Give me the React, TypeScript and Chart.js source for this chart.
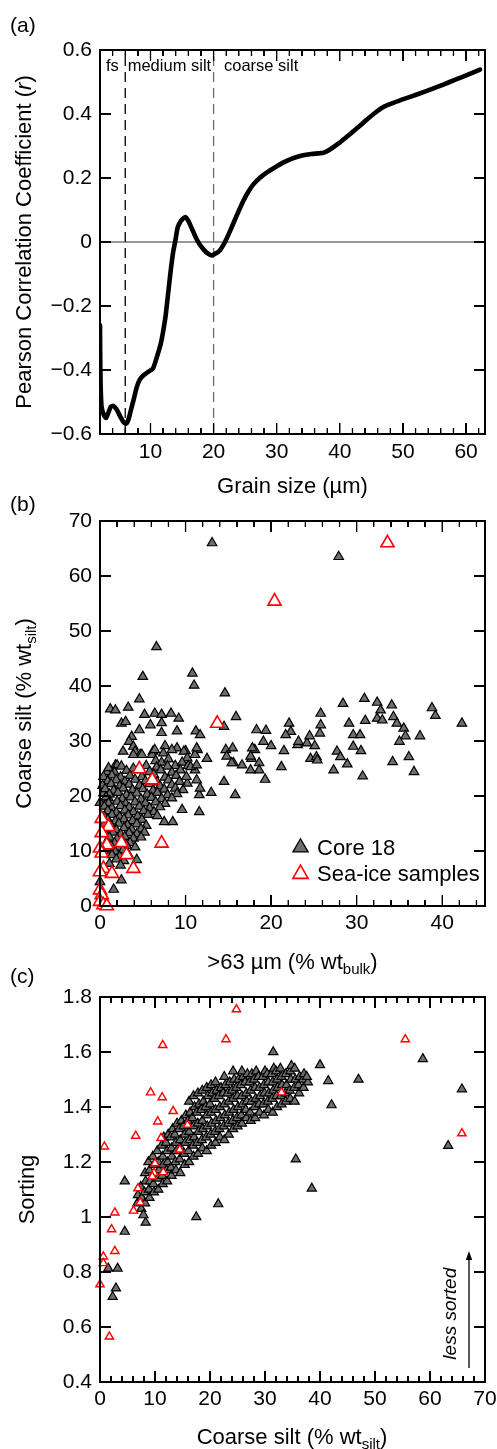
import React, { useEffect, useRef } from 'react';
import { Chart, registerables } from 'chart.js';

Chart.register(...registerables);

const FONT = "'Liberation Sans', Arial, Helvetica, sans-serif";

// ---------------- Panel (a) ----------------
const grainSize = [2.0, 2.03, 2.1, 2.25, 2.6, 2.95, 3.3, 3.7, 4.1, 4.6, 5.2, 5.7, 6.1, 6.5, 6.9, 7.3, 7.8, 8.3, 9.0, 9.7, 10.4, 11.0, 11.6, 12.0, 12.4, 12.8, 13.2, 13.6, 13.9, 14.3, 14.7, 15.1, 15.5, 16.0, 16.6, 17.2, 17.8, 18.4, 19.0, 19.7, 20.4, 21.0, 21.8, 22.6, 23.6, 24.7, 25.5, 26.3, 27.3, 28.4, 29.7, 31.0, 32.3, 33.7, 35.5, 37.4, 38.5, 39.8, 41.6, 43.0, 44.3, 45.6, 46.9, 48.5, 50.3, 52.2, 54.3, 56.4, 58.4, 60.3, 62.2];
const pearsonR = [-0.26, -0.35, -0.45, -0.515, -0.54, -0.55, -0.535, -0.515, -0.512, -0.522, -0.545, -0.562, -0.568, -0.555, -0.525, -0.495, -0.455, -0.43, -0.415, -0.405, -0.395, -0.36, -0.32, -0.28, -0.23, -0.16, -0.09, -0.03, 0.0, 0.045, 0.062, 0.072, 0.078, 0.066, 0.04, 0.013, -0.008, -0.023, -0.035, -0.042, -0.035, -0.026, 0.0, 0.034, 0.08, 0.128, 0.157, 0.18, 0.2, 0.217, 0.233, 0.248, 0.26, 0.269, 0.275, 0.279, 0.29, 0.308, 0.337, 0.36, 0.383, 0.404, 0.422, 0.435, 0.448, 0.461, 0.476, 0.492, 0.508, 0.523, 0.539];
const aXTicks = [10, 20, 30, 40, 50, 60];
const aYTicks = [-0.6, -0.4, -0.2, 0, 0.2, 0.4, 0.6];
const sizeBoundaries = [6, 20];
const sizeClassLabels = ['fs', 'medium silt', 'coarse silt'];

// ---------------- Panel (b) ----------------
const bXTicks = [0, 10, 20, 30, 40];
const bYTicks = [0, 10, 20, 30, 40, 50, 60, 70];
const core18B = [
  [13.1, 66.0], [27.9, 63.5], [6.6, 47.1], [5.0, 41.7], [10.8, 42.3], [11.0, 40.1], [14.6, 38.7], [4.6, 37.6],
  [1.2, 35.8], [1.8, 35.6], [3.3, 36.1], [5.2, 34.8], [6.4, 35.0], [7.2, 34.8], [8.3, 35.0], [9.2, 34.1], [15.9, 34.4], [14.5, 32.6],
  [2.5, 33.2], [3.0, 33.5], [5.9, 32.9], [7.2, 33.3], [4.6, 32.0], [7.2, 31.5], [9.0, 31.8], [11.2, 31.8], [11.7, 31.1],
  [3.7, 30.8], [3.4, 29.9], [3.9, 29.0], [4.1, 28.1], [2.7, 28.1], [4.7, 27.5], [7.6, 29.1], [6.2, 28.1], [9.0, 28.7], [10.0, 28.2], [11.4, 28.4],
  [12.5, 26.8], [14.7, 28.4], [15.5, 28.7], [15.6, 26.0], [16.6, 25.6],
  [18.3, 32.0], [19.4, 31.9], [19.1, 29.9], [20.0, 29.1], [18.1, 28.4], [17.7, 26.8], [18.6, 26.0], [17.6, 24.7], [18.6, 24.7], [19.3, 23.0],
  [21.2, 25.3], [21.5, 28.2], [22.1, 33.2], [22.3, 31.7], [21.7, 31.1], [23.1, 29.3], [23.2, 29.9], [24.2, 29.6], [24.5, 30.9], [25.1, 29.1],
  [25.7, 31.4], [25.8, 32.9], [25.8, 35.0], [24.6, 26.8], [25.3, 27.1], [25.4, 26.5], [27.3, 24.7], [27.7, 28.1], [28.1, 27.1], [28.9, 25.8],
  [28.4, 36.8], [29.1, 33.2], [29.6, 31.1], [30.4, 31.1], [29.6, 29.0], [30.5, 28.2], [30.7, 23.6], [30.9, 37.7], [31.0, 33.7], [32.4, 37.0],
  [32.8, 35.6], [32.4, 34.1], [33.0, 33.8], [34.1, 36.5], [34.3, 34.4], [34.7, 33.2], [35.5, 32.3], [35.7, 30.9], [35.0, 29.9], [36.1, 27.1],
  [34.2, 26.2], [36.7, 24.4], [37.4, 30.9], [38.8, 36.0], [39.2, 34.6], [42.3, 33.2],
  [6.1, 27.5], [6.4, 28.4], [7.4, 27.8], [8.4, 28.4], [9.8, 28.1], [10.2, 26.9], [11.1, 27.5], [11.3, 28.7], [14.8, 27.2], [15.4, 26.0],
  [17.8, 28.7], [17.6, 27.2], [4.9, 27.5], [3.9, 27.5], [1.8, 25.6], [0.8, 24.4], [6.5, 26.4], [7.2, 26.1], [8.0, 26.7], [8.8, 25.5],
  [9.6, 26.1], [10.3, 25.5], [11.1, 24.7],
  [11.6, 20.2], [11.7, 21.4], [11.3, 22.9], [9.7, 21.1], [10.2, 22.3], [9.4, 24.7], [10.6, 25.3], [11.3, 25.6], [13.0, 20.6], [15.8, 20.2],
  [14.5, 22.6], [9.6, 17.5], [11.6, 17.1], [8.5, 15.3], [7.5, 15.3], [0.0, 18.8], [0.4, 20.5], [1.0, 19.6], [2.0, 25.6],
  [1.0, 25.1], [2.5, 25.4], [3.9, 25.0], [5.4, 25.5], [6.6, 25.2], [7.9, 25.4],
  [1.7, 24.3], [3.1, 24.6], [5.8, 24.4], [7.1, 24.7], [8.4, 24.3],
  [0.4, 23.5], [1.4, 23.8], [2.4, 23.4], [3.5, 23.7], [4.9, 23.5], [6.3, 23.9], [7.6, 23.4], [8.9, 23.7], [10.1, 23.5],
  [0.9, 22.7], [1.9, 22.9], [2.9, 22.6], [4.1, 23.0], [5.3, 22.7], [6.7, 22.5], [8.0, 22.9], [9.3, 22.6],
  [0.3, 21.9], [1.3, 22.2], [2.3, 21.8], [3.4, 22.1], [4.6, 21.9], [5.8, 22.2], [7.0, 21.8], [8.4, 22.0],
  [0.6, 21.3], [1.6, 21.0], [2.7, 21.4], [3.8, 21.1], [5.0, 21.3], [6.2, 21.0], [7.5, 21.2], [8.8, 21.4],
  [1.1, 20.3], [2.1, 20.6], [3.1, 20.2], [4.3, 20.5], [5.5, 20.3], [6.7, 20.6], [7.9, 20.2], [9.0, 20.4],
  [0.7, 19.8], [2.6, 19.5], [3.6, 19.8], [4.8, 19.4], [6.0, 19.7], [7.2, 19.5], [8.4, 19.6],
  [1.0, 18.7], [2.0, 19.0], [3.0, 18.6], [4.1, 18.9], [5.3, 18.7], [6.5, 18.9], [7.6, 18.6],
  [0.5, 18.1], [1.4, 17.8], [2.4, 18.2], [3.4, 17.9], [4.6, 18.1], [5.8, 17.8], [7.0, 18.0],
  [0.9, 17.3], [1.9, 17.0], [2.9, 17.4], [3.9, 17.1], [5.1, 17.3], [6.3, 17.1],
  [0.5, 16.3], [1.4, 16.6], [2.3, 16.2], [3.3, 16.5], [4.4, 16.3], [5.6, 16.6], [6.7, 16.4],
  [0.9, 15.7], [1.8, 15.4], [2.8, 15.8], [3.8, 15.5], [4.9, 15.7],
  [0.5, 14.9], [1.3, 14.6], [2.2, 15.0], [3.2, 14.7], [4.3, 14.9], [5.4, 14.6],
  [1.0, 14.1], [1.9, 13.8], [2.8, 14.2], [3.7, 13.9], [4.8, 14.0],
  [0.6, 13.1], [1.5, 13.4], [2.4, 13.0], [3.4, 13.3], [4.3, 13.1], [5.2, 13.4],
  [1.1, 12.5], [2.0, 12.2], [2.9, 12.6], [3.9, 12.3], [4.8, 12.5],
  [0.8, 11.7], [1.7, 11.4], [2.6, 11.8], [3.5, 11.5],
  [1.3, 10.9], [2.2, 10.6], [3.1, 11.0], [4.1, 10.7],
  [0.9, 10.1], [1.8, 9.8], [2.7, 10.2],
  [1.4, 9.3], [2.3, 9.0], [3.3, 9.4],
  [1.9, 8.5], [2.8, 8.2], [4.3, 8.4],
  [1.1, 7.7], [2.4, 7.4],
  [0.0, 4.4], [1.6, 3.0], [2.5, 4.7],
];
const seaIceB = [
  [33.6, 66.0], [20.4, 55.4], [13.7, 33.2], [4.6, 24.9], [6.1, 22.9], [7.2, 11.4], [0.2, 15.9], [1.0, 14.4],
  [0.2, 13.3], [0.8, 11.1], [0.0, 10.5], [0.2, 9.6], [2.5, 11.5], [3.1, 9.3], [3.9, 6.8], [0.4, 6.8],
  [1.4, 5.9], [0.0, 6.2], [0.0, 2.9], [0.2, 2.0], [0.0, 0.8], [0.4, 0.2], [0.8, 0.0],
];

// ---------------- Panel (c) ----------------
const cXTicks = [0, 10, 20, 30, 40, 50, 60, 70];
const cYTicks = [0.4, 0.6, 0.8, 1.0, 1.2, 1.4, 1.6, 1.8];
const core18C = [
  [6.8, 1.05], [6.9, 1.08],
  [7.5, 1.03], [7.6, 1.07], [7.4, 1.11],
  [8.2, 1.05], [8.1, 1.09], [8.3, 1.13], [8.2, 1.16],
  [9.0, 1.07], [8.9, 1.10], [9.1, 1.13], [9.0, 1.17], [8.8, 1.20],
  [9.8, 1.09], [9.7, 1.12], [9.9, 1.15], [9.8, 1.19], [9.6, 1.22],
  [10.6, 1.10], [10.5, 1.14], [10.7, 1.17], [10.6, 1.20], [10.4, 1.24],
  [11.4, 1.12], [11.3, 1.15], [11.5, 1.19], [11.4, 1.22], [11.2, 1.26], [11.6, 1.29],
  [12.2, 1.13], [12.1, 1.17], [12.3, 1.20], [12.2, 1.24], [12.0, 1.27], [12.4, 1.30],
  [13.0, 1.15], [12.9, 1.18], [13.1, 1.22], [13.0, 1.25], [12.8, 1.29], [13.2, 1.32],
  [13.8, 1.17], [13.7, 1.20], [13.9, 1.24], [13.8, 1.27], [13.6, 1.30], [14.0, 1.34],
  [14.6, 1.16], [14.5, 1.21], [14.7, 1.25], [14.6, 1.28], [14.4, 1.32], [14.8, 1.35],
  [15.4, 1.19], [15.3, 1.23], [15.5, 1.27], [15.4, 1.30], [15.2, 1.33], [15.6, 1.37],
  [16.2, 1.20], [16.1, 1.24], [16.3, 1.28], [16.2, 1.31], [16.0, 1.35], [16.4, 1.38], [16.2, 1.42],
  [17.0, 1.22], [16.9, 1.26], [17.1, 1.29], [17.0, 1.33], [16.8, 1.36], [17.2, 1.40], [17.0, 1.44],
  [17.8, 1.23], [17.7, 1.27], [17.9, 1.31], [17.8, 1.34], [17.6, 1.38], [18.0, 1.41], [17.8, 1.45],
  [18.6, 1.25], [18.5, 1.28], [18.7, 1.32], [18.6, 1.35], [18.4, 1.39], [18.8, 1.42], [18.6, 1.46],
  [19.4, 1.24], [19.3, 1.29], [19.5, 1.33], [19.4, 1.37], [19.2, 1.40], [19.6, 1.44], [19.4, 1.47],
  [20.2, 1.26], [20.1, 1.30], [20.3, 1.34], [20.2, 1.38], [20.0, 1.41], [20.4, 1.45], [20.2, 1.48],
  [21.0, 1.27], [20.9, 1.31], [21.1, 1.35], [21.0, 1.39], [20.8, 1.43], [21.2, 1.46], [21.0, 1.49],
  [21.8, 1.29], [21.7, 1.32], [21.9, 1.36], [21.8, 1.40], [21.6, 1.44], [22.0, 1.47],
  [22.6, 1.28], [22.5, 1.33], [22.7, 1.37], [22.6, 1.41], [22.4, 1.45], [22.8, 1.48], [22.6, 1.51],
  [23.4, 1.30], [23.3, 1.34], [23.5, 1.38], [23.4, 1.42], [23.2, 1.45], [23.6, 1.49],
  [24.2, 1.32], [24.1, 1.35], [24.3, 1.39], [24.2, 1.43], [24.0, 1.46], [24.4, 1.50], [24.2, 1.53],
  [25.0, 1.33], [24.9, 1.36], [25.1, 1.40], [25.0, 1.44], [24.8, 1.47], [25.2, 1.50],
  [25.8, 1.34], [25.7, 1.37], [25.9, 1.41], [25.8, 1.44], [25.6, 1.48], [26.0, 1.51], [25.8, 1.53],
  [26.6, 1.36], [26.5, 1.39], [26.7, 1.42], [26.6, 1.45], [26.4, 1.49], [26.8, 1.52],
  [27.4, 1.35], [27.3, 1.38], [27.5, 1.42], [27.4, 1.46], [27.2, 1.49], [27.6, 1.52],
  [28.2, 1.36], [28.1, 1.40], [28.3, 1.43], [28.2, 1.47], [28.0, 1.50], [28.4, 1.53],
  [29.0, 1.38], [28.9, 1.41], [29.1, 1.44], [29.0, 1.47], [28.8, 1.51],
  [29.8, 1.37], [29.7, 1.41], [29.9, 1.45], [29.8, 1.48], [29.6, 1.51], [30.0, 1.53],
  [30.6, 1.39], [30.5, 1.42], [30.7, 1.45], [30.6, 1.49], [30.4, 1.52],
  [31.4, 1.38], [31.3, 1.43], [31.5, 1.46], [31.4, 1.49], [31.2, 1.52], [31.6, 1.54],
  [32.2, 1.40], [32.1, 1.44], [32.3, 1.47], [32.2, 1.50], [32.0, 1.53],
  [33.0, 1.41], [32.9, 1.44], [33.1, 1.48], [33.0, 1.51], [32.8, 1.54],
  [33.8, 1.42], [33.7, 1.45], [33.9, 1.48], [33.8, 1.52],
  [34.6, 1.43], [34.5, 1.46], [34.7, 1.50], [34.6, 1.53], [34.8, 1.55],
  [35.4, 1.42], [35.3, 1.47], [35.5, 1.50], [35.4, 1.54],
  [36.2, 1.45], [36.1, 1.48], [36.3, 1.51],
  [37.0, 1.47], [36.9, 1.50], [37.1, 1.52],
  [37.8, 1.49], [37.6, 1.51],
  [4.5, 1.13], [4.5, 0.947], [8.3, 0.98], [7.9, 1.007], [17.5, 1.0], [21.5, 1.047], [35.6, 1.21], [38.5, 1.104],
  [31.5, 1.60], [58.7, 1.575], [40.0, 1.553], [41.5, 1.495], [47.0, 1.50], [42.1, 1.407], [65.8, 1.465], [63.3, 1.259],
  [1.5, 0.813], [3.2, 0.813], [2.9, 0.741], [2.3, 0.71],
];
const seaIceC = [
  [24.8, 1.755], [11.4, 1.625], [22.9, 1.646], [55.5, 1.646], [65.8, 1.304], [0.8, 1.256], [6.5, 1.295], [9.2, 1.453],
  [11.3, 1.435], [13.3, 1.385], [10.5, 1.347], [11.1, 1.287], [15.9, 1.335], [14.5, 1.245], [33.0, 1.453], [10.0, 1.195],
  [9.8, 1.16], [11.5, 1.163], [9.5, 1.147], [6.9, 1.104], [7.3, 1.053], [6.1, 1.023], [2.7, 1.016], [2.1, 0.955],
  [2.7, 0.876], [0.6, 0.856], [0.6, 0.832], [0.0, 0.755], [1.7, 0.565],
];

// ---------------- helpers ----------------
const PLOT_LEFT = 100;
const PLOT_RIGHT = 485;
const stepList = (a: number, b: number, s: number) => {
  const out: number[] = [];
  for (let v = a; v <= b + 1e-9; v += s) out.push(+v.toFixed(6));
  return out;
};
const toXY = (arr: number[][]) => arr.map(([x, y]) => ({ x, y }));

type Seg = { t: string; size: number; italic?: boolean; dy?: number };
function rich(ctx: any, segs: Seg[], x: number, y: number, align: 'left' | 'center' = 'left', rotate = false) {
  ctx.save();
  ctx.translate(x, y);
  if (rotate) ctx.rotate(-Math.PI / 2);
  ctx.textBaseline = 'alphabetic';
  ctx.textAlign = 'left';
  ctx.fillStyle = '#000';
  const f = (s: Seg) => `${s.italic ? 'italic ' : ''}${s.size}px ${FONT}`;
  let total = 0;
  for (const s of segs) { ctx.font = f(s); total += ctx.measureText(s.t).width; }
  let cx = align === 'center' ? -total / 2 : 0;
  for (const s of segs) { ctx.font = f(s); ctx.fillText(s.t, cx, s.dy || 0); cx += ctx.measureText(s.t).width; }
  ctx.restore();
}

function tri(ctx: any, x: number, y: number, r: number, fill: string, stroke: string, lw: number) {
  ctx.beginPath();
  ctx.moveTo(x, y - r);
  ctx.lineTo(x + r * Math.sin((2 * Math.PI) / 3), y - r * Math.cos((2 * Math.PI) / 3));
  ctx.lineTo(x + r * Math.sin((4 * Math.PI) / 3), y - r * Math.cos((4 * Math.PI) / 3));
  ctx.closePath();
  ctx.fillStyle = fill;
  ctx.fill();
  ctx.lineWidth = lw;
  ctx.strokeStyle = stroke;
  ctx.stroke();
}

function drawFrame(ctx: any, o: any) {
  const L = PLOT_LEFT, R = PLOT_RIGHT, T = o.top, B = o.bottom;
  const px = (v: number) => L + ((v - o.xMin) / (o.xMax - o.xMin)) * (R - L);
  const py = (v: number) => B - ((v - o.yMin) / (o.yMax - o.yMin)) * (B - T);
  const MAJ = 11, MIN = 6, LW = 1.3, H = 0.65;
  ctx.save();
  ctx.fillStyle = '#000';
  ctx.fillRect(L - H, T - H, R - L + LW, LW);
  ctx.fillRect(L - H, B - H, R - L + LW, LW);
  ctx.fillRect(L - H, T - H, LW, B - T + LW);
  ctx.fillRect(R - H, T - H, LW, B - T + LW);
  const vx = (v: number, len: number) => {
    const p = px(v);
    ctx.fillRect(p - H, B - len, LW, len);
    ctx.fillRect(p - H, T, LW, len);
  };
  o.xTicks.forEach((v: number) => vx(v, MAJ));
  o.xMinor.forEach((v: number) => vx(v, MIN));
  o.yTicks.forEach((v: number) => {
    const p = py(v);
    ctx.fillRect(L, p - H, MAJ, LW);
    ctx.fillRect(R - MAJ, p - H, MAJ, LW);
  });
  ctx.restore();
}

function makeConfig(o: any) {
  return {
    type: 'scatter',
    data: { datasets: o.datasets },
    options: {
      responsive: false,
      animation: false,
      devicePixelRatio: 1,
      events: [],
      layout: { padding: { left: 0, right: 497 - PLOT_RIGHT, top: o.top, bottom: 0 } },
      plugins: { legend: { display: false }, tooltip: { enabled: false } },
      scales: {
        x: {
          type: 'linear', min: o.xMin, max: o.xMax,
          afterBuildTicks: (s: any) => { s.ticks = o.xTicks.map((v: number) => ({ value: v })); },
          afterFit: (s: any) => { s.height = o.canvasH - o.bottom; s.paddingLeft = 0; s.paddingRight = 0; },
          ticks: { autoSkip: false, maxRotation: 0, minRotation: 0, padding: o.xPad, color: '#000', font: { family: FONT, size: 21 }, callback: (v: number) => String(v) },
          grid: { display: false, drawTicks: false },
          border: { display: false },
        },
        y: {
          type: 'linear', min: o.yMin, max: o.yMax,
          afterBuildTicks: (s: any) => { s.ticks = o.yTicks.map((v: number) => ({ value: v })); },
          afterFit: (s: any) => { s.width = PLOT_LEFT; s.paddingTop = 0; s.paddingBottom = 0; },
          ticks: { autoSkip: false, padding: 8, color: '#000', font: { family: FONT, size: 21 }, callback: o.yFmt },
          grid: { display: false, drawTicks: false },
          border: { display: false },
        },
      },
    },
    plugins: [
      {
        id: o.id + 'Texts',
        afterDraw(chart: any) {
          const ctx = chart.ctx;
          drawFrame(ctx, o);
          o.texts(ctx);
        },
      },
    ],
  };
}

const lineAt = (x: number, color: string, dash: number[]) => ({
  data: [{ x, y: -0.6 }, { x, y: 0.6 }], showLine: true, borderColor: color, borderWidth: 1.3,
  borderDash: dash, pointRadius: 0, order: 2,
});

const specA: any = {
  id: 'panelA', offset: 0, canvasH: 500, top: 50, bottom: 434, xPad: 6,
  xMin: 2, xMax: 63, xTicks: aXTicks, yMin: -0.6, yMax: 0.6, yTicks: aYTicks,
  xMinor: stepList(4, 62, 2).filter((v) => v % 10 !== 0),
  yFmt: (v: number) => (Math.abs(v) < 1e-9 ? '0' : (v < 0 ? '\u2212' : '') + Math.abs(v).toFixed(1)),
  datasets: [
    {
      data: grainSize.map((x, i) => ({ x, y: pearsonR[i] })), showLine: true, borderColor: '#000',
      borderWidth: 4.6, pointRadius: 0, tension: 0.2, borderJoinStyle: 'round', borderCapStyle: 'round', order: 0,
    },
    { data: [{ x: 2, y: 0 }, { x: 63, y: 0 }], showLine: true, borderColor: '#333', borderWidth: 1, pointRadius: 0, order: 3 },
    lineAt(sizeBoundaries[0], '#000', [10, 6]),
    lineAt(sizeBoundaries[1], '#6e6e6e', [10, 6]),
  ],
  texts(ctx: any) {
    rich(ctx, [{ t: '(a)', size: 21 }], 10, 31.5);
    rich(ctx, [{ t: 'Pearson Correlation Coefficient (', size: 22 }, { t: 'r', size: 22, italic: true }, { t: ')', size: 22 }], 31, 242, 'center', true);
    rich(ctx, [{ t: 'Grain size (\u00b5m)', size: 22 }], 292.5, 492.5, 'center');
    rich(ctx, [{ t: sizeClassLabels[0], size: 16.5 }], 106, 70.7);
    rich(ctx, [{ t: sizeClassLabels[1], size: 16.5 }], 127.7, 70.7);
    rich(ctx, [{ t: sizeClassLabels[2], size: 16.5 }], 224, 70.7);
  },
};

const specB: any = {
  id: 'panelB', offset: 480, canvasH: 500, top: 41, bottom: 426, xPad: 5,
  xMin: 0, xMax: 45, xTicks: bXTicks, yMin: 0, yMax: 70, yTicks: bYTicks,
  xMinor: stepList(2, 44, 2).filter((v) => v % 10 !== 0),
  yFmt: (v: number) => String(v),
  datasets: [
    {
      label: 'Sea-ice samples', data: toXY(seaIceB), pointStyle: 'triangle', pointRadius: 7.6,
      pointBackgroundColor: '#ffffff', pointBorderColor: '#ff0000', pointBorderWidth: 1.6, order: 0, clip: false,
    },
    {
      label: 'Core 18', data: toXY(core18B), pointStyle: 'triangle', pointRadius: 5.5,
      pointBackgroundColor: '#6e6e6e', pointBorderColor: '#000000', pointBorderWidth: 1.2, order: 1, clip: false,
    },
  ],
  texts(ctx: any) {
    rich(ctx, [{ t: '(b)', size: 21 }], 10, 30.7);
    rich(ctx, [{ t: 'Coarse silt (% wt', size: 22 }, { t: 'silt', size: 15, dy: 5 }, { t: ')', size: 22 }], 31, 233.5, 'center', true);
    rich(ctx, [{ t: '>63 \u00b5m (% wt', size: 22 }, { t: 'bulk', size: 15, dy: 5 }, { t: ')', size: 22 }], 292.5, 489, 'center');
    ctx.save();
    tri(ctx, 300.5, 367.5, 8.8, '#6e6e6e', '#000', 1.3);
    tri(ctx, 300.5, 394, 8.8, '#ffffff', '#ff0000', 1.6);
    ctx.restore();
    rich(ctx, [{ t: 'Core 18', size: 22 }], 317, 375);
    rich(ctx, [{ t: 'Sea-ice samples', size: 22 }], 317, 400.8);
  },
};

const specC: any = {
  id: 'panelC', offset: 950, canvasH: 499, top: 47, bottom: 432, xPad: 5,
  xMin: 0, xMax: 70, xTicks: cXTicks, yMin: 0.4, yMax: 1.8, yTicks: cYTicks,
  xMinor: stepList(2, 68, 2).filter((v) => v % 10 !== 0),
  yFmt: (v: number) => (Math.abs(v - 1) < 1e-9 ? '1' : v.toFixed(1)),
  datasets: [
    {
      label: 'Sea-ice samples', data: toXY(seaIceC), pointStyle: 'triangle', pointRadius: 4.8,
      pointBackgroundColor: '#ffffff', pointBorderColor: '#ff0000', pointBorderWidth: 1.4, order: 0, clip: false,
    },
    {
      label: 'Core 18', data: toXY(core18C), pointStyle: 'triangle', pointRadius: 5.3,
      pointBackgroundColor: '#6e6e6e', pointBorderColor: '#000000', pointBorderWidth: 1.2, order: 1, clip: false,
    },
  ],
  texts(ctx: any) {
    rich(ctx, [{ t: '(c)', size: 21 }], 10, 33);
    rich(ctx, [{ t: 'Sorting', size: 22 }], 34, 239.5, 'center', true);
    rich(ctx, [{ t: 'Coarse silt (% wt', size: 22 }, { t: 'silt', size: 15, dy: 5 }, { t: ')', size: 22 }], 292, 494, 'center');
    rich(ctx, [{ t: 'less sorted', size: 19, italic: true }], 456, 363.7, 'center', true);
    ctx.save();
    ctx.fillStyle = '#000';
    ctx.fillRect(468.35, 308, 1.3, 110);
    ctx.beginPath();
    ctx.moveTo(469, 301);
    ctx.lineTo(465.8, 310);
    ctx.lineTo(472.2, 310);
    ctx.closePath();
    ctx.fill();
    ctx.restore();
  },
};

// HTML overlay frame with inward ticks (same geometry as the pinned chart area)
function FrameOverlay({ o }: { o: any }) {
  const L = PLOT_LEFT, R = PLOT_RIGHT, T = o.offset + o.top, B = o.offset + o.bottom;
  const px = (v: number) => L + ((v - o.xMin) / (o.xMax - o.xMin)) * (R - L);
  const py = (v: number) => B - ((v - o.yMin) / (o.yMax - o.yMin)) * (B - T);
  const LW = 1.3, H = 0.65, MAJ = 11, MIN = 6;
  const bar = (key: string, left: number, top: number, w: number, h: number) => (
    <div key={key} style={{ position: 'absolute', left, top, width: w, height: h, background: '#000', pointerEvents: 'none' }} />
  );
  const items: any[] = [
    bar('t', L - H, T - H, R - L + LW, LW),
    bar('b', L - H, B - H, R - L + LW, LW),
    bar('l', L - H, T - H, LW, B - T + LW),
    bar('r', R - H, T - H, LW, B - T + LW),
  ];
  o.xTicks.forEach((v: number, i: number) => {
    items.push(bar('xb' + i, px(v) - H, B - MAJ, LW, MAJ), bar('xt' + i, px(v) - H, T, LW, MAJ));
  });
  o.xMinor.forEach((v: number, i: number) => {
    items.push(bar('mb' + i, px(v) - H, B - MIN, LW, MIN), bar('mt' + i, px(v) - H, T, LW, MIN));
  });
  o.yTicks.forEach((v: number, i: number) => {
    items.push(bar('yl' + i, L, py(v) - H, MAJ, LW), bar('yr' + i, R - MAJ, py(v) - H, MAJ, LW));
  });
  return <>{items}</>;
}

export default function App() {
  const refA = useRef<HTMLCanvasElement>(null);
  const refB = useRef<HTMLCanvasElement>(null);
  const refC = useRef<HTMLCanvasElement>(null);

  useEffect(() => {
    const charts = [
      new Chart(refA.current as any, makeConfig(specA) as any),
      new Chart(refB.current as any, makeConfig(specB) as any),
      new Chart(refC.current as any, makeConfig(specC) as any),
    ];
    return () => charts.forEach((c) => c.destroy());
  }, []);

  const cs = (top: number, h: number) => ({ position: 'absolute' as const, left: 0, top, width: 497, height: h });
  return (
    <div style={{ position: 'absolute', left: 0, top: 0, width: 497, height: 1449, background: '#fff', overflow: 'hidden' }}>
      <canvas ref={refA} width={497} height={500} style={cs(0, 500)} />
      <canvas ref={refB} width={497} height={500} style={cs(480, 500)} />
      <canvas ref={refC} width={497} height={499} style={cs(950, 499)} />
      <FrameOverlay o={specA} />
      <FrameOverlay o={specB} />
      <FrameOverlay o={specC} />
    </div>
  );
}
